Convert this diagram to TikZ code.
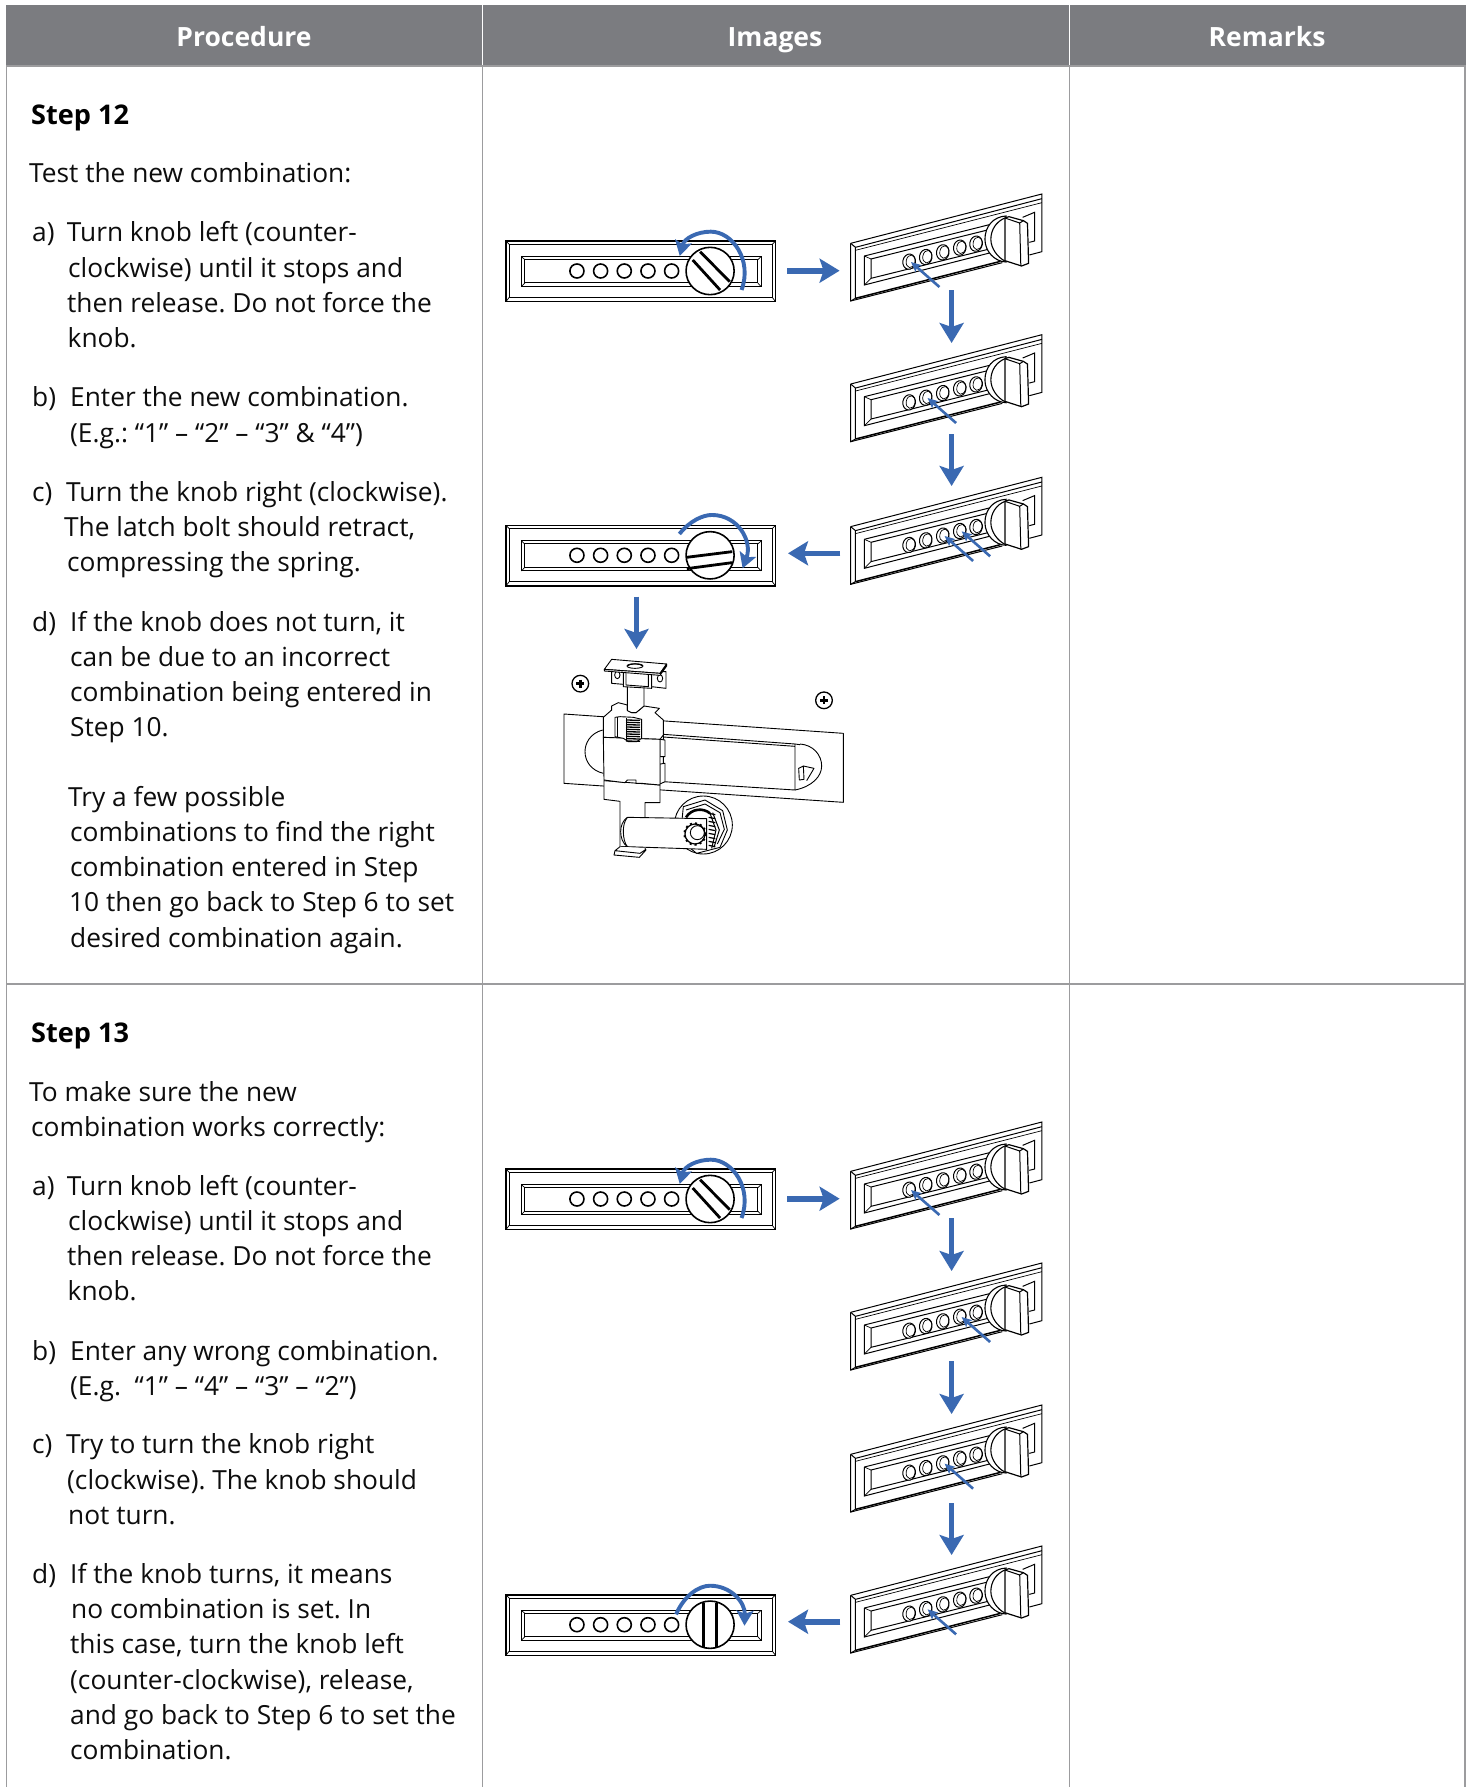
\documentclass[tikz,border=0pt]{standalone}
\usepackage{fontspec}
\setmainfont{Open Sans}
\usetikzlibrary{arrows.meta}
\definecolor{hdr}{HTML}{7B7C80}
\definecolor{rule}{HTML}{9C9C9E}
\definecolor{flow}{HTML}{3A69B2}
\newcount\tlc
\tikzset{
  txt/.style={anchor=base west,inner sep=0pt,font=\fontsize{26.3}{26}\selectfont\frenchspacing,text=black!95},
  stepttl/.style={anchor=base west,inner sep=0pt,font=\fontsize{27.1}{26}\selectfont\bfseries},
  headttl/.style={anchor=base,inner sep=0pt,font=\fontsize{26.5}{26}\selectfont\bfseries,text=white},
  gridline/.style={draw=rule,line width=1.1pt},
  blockarrow/.style={draw=flow,line width=5.6pt,-{Stealth[length=20pt,width=24pt,inset=4pt]}},
  turnarrow/.style={draw=flow,line width=3.9pt,-{Stealth[length=15pt,width=17pt,inset=3pt]}},
  pointer/.style={draw=flow,line width=2.6pt,-{Stealth[length=10pt,width=9pt,inset=2pt]}},
  ink/.style={draw=black,line width=1pt,line join=miter},
  inkb/.style={draw=black,line width=1.6pt},
  slot/.style={draw=black,line width=2.8pt},
  mech/.style={draw=black,line width=.9pt,fill=white,line join=round},
}
\newcommand\tl[3]{\global\advance\tlc by 1 \node[txt] (t\the\tlc) at (#1,#2) {#3};}
\newcommand\ts[3]{\global\advance\tlc by 1 \node[stepttl] (t\the\tlc) at (#1,#2) {#3};}
% flat lock: #1 top, #2 slot paths, #3 curved arrow path
\newcommand\flatlock[3]{%
\begin{scope}[shift={(490,{#1-61})},x=.36990pt,y=-.33333pt]
  \fill[white] (43,183) rectangle (772,365);
  \draw[inkb] (43,183) rectangle (772,365);
  \draw[ink] (52,193) rectangle (763,352);
  \draw[ink,line width=.7pt] (43,183) -- (52,193) (772,183) -- (763,193) (43,365) -- (52,352) (772,365) -- (763,352);
  \draw[ink] (85,230) rectangle (733,320);
  \draw[ink] (94,239) rectangle (724,309);
  \draw[ink,line width=.7pt] (85,230) -- (94,239) (733,230) -- (724,239) (85,320) -- (94,309) (733,320) -- (724,309);
  \foreach \bx in {235,299,363,427,491} \draw[inkb] (\bx,273) circle [x radius=19,y radius=21];
  \draw[inkb,fill=white] (595,273) ellipse [x radius=65,y radius=71];
  #2
  #3
\end{scope}}
% angled lock: #1 top, #2 list of pressed buttons
\newcommand\anglelock[2]{%
\begin{scope}[shift={(490,{#1-14})},x=.36990pt,y=-.33333pt]
  \fill[white] (975,190) -- (1492,42) -- (1492,215) -- (1385,248) -- (975,363) -- cycle;
  \draw[ink] (975,190) -- (1492,42) -- (1492,215) -- (1458,225);
  \draw[ink] (975,190) -- (975,363) -- (1385,248);
  \draw[ink] (988,202) -- (1492,56);
  \draw[ink,line width=.7pt] (988,211) -- (1492,68);
  \draw[ink] (988,202) -- (988,355) (975,190) -- (988,202) (975,363) -- (988,355);
  \draw[ink,line width=1.5pt] (988,355) -- (1380,244);
  \draw[ink] (1012,228) -- (1350,134);
  \draw[ink] (1012,228) -- (1012,315) -- (1375,212);
  \draw[ink] (1030,237) -- (1345,150);
  \draw[ink] (1030,237) -- (1030,295) -- (1350,207);
  \draw[ink,line width=.7pt] (1012,228) -- (1030,237) (1012,315) -- (1030,295);
  \draw[ink] (1440,112) -- (1472,97) -- (1472,183) -- (1458,187);
  \foreach \bx/\by in {1133/245,1178/231,1224/217,1270/203,1314/191}{
    \draw[ink,fill=white] (\bx,\by) ellipse [x radius=17,y radius=23,rotate=-10];
    \draw[ink,line width=.7pt] (\bx+4,\by-1) ellipse [x radius=12,y radius=19,rotate=-10];
  }
  \draw[ink,fill=white,line width=1.1pt] (1395,108) .. controls (1360,110) and (1338,140) .. (1338,178) .. controls (1338,215) and (1365,245) .. (1395,246) -- cycle;
  \draw[ink,line width=1.1pt] (1392,114) .. controls (1368,125) and (1354,150) .. (1354,178) .. controls (1354,205) and (1372,232) .. (1392,243);
  \draw[ink,fill=white,line width=1.2pt] (1392,114) -- (1403,110) -- (1442,122) -- (1453,130) -- (1456,250) -- (1437,258) -- (1392,242) -- cycle;
  \draw[ink] (1392,114) -- (1432,129) -- (1442,122) (1432,129) -- (1435,258);
  \foreach \bx/\by in {#2}
    \draw[pointer] (\bx+82,\by+76) -- (\bx+5,\by+1);
\end{scope}}
\begin{document}
\begin{tikzpicture}[x=1pt,y=-1pt]
\useasboundingbox (0,0) rectangle (1470,1787);
\fill[white] (0,0) rectangle (1470,1787);
% table
\fill[hdr] (6,5) rectangle (1465.5,65.5);
\draw[white,line width=1.1pt] (482.5,5) -- (482.5,65.5) (1069.5,5) -- (1069.5,65.5);
\draw[gridline] (6.5,65.5) -- (6.5,1787) (482.5,65.5) -- (482.5,1787) (1069.5,65.5) -- (1069.5,1787) (1465,65.5) -- (1465,1787);
\draw[gridline] (6.5,66) -- (1465,66) (6.5,984) -- (1465,984);
\node[headttl] (h1) at (244,46.7) {Procedure};
\node[headttl] (h2) at (775,46.7) {Images};
\node[headttl] (h3) at (1267,46.7) {Remarks};
% step 12 text
\ts{31}{124.5}{Step 12}
\tl{29}{182.8}{Test the new combination:}
\tl{32}{241.7}{a)}\tl{66.7}{241.7}{Turn knob left (counter-}
\tl{68}{277.3}{clockwise) until it stops and}
\tl{67}{312.7}{then release. Do not force the}
\tl{67.5}{347.7}{knob.}
\tl{32}{406.7}{b)}\tl{70}{406.7}{Enter the new combination.}
\tl{70}{442.3}{(E.g.: “1” – “2” – “3” \& “4”)}
\tl{32}{501}{c)}\tl{66}{501}{Turn the knob right (clockwise).}
\tl{64}{536}{The latch bolt should retract,}
\tl{67}{571.7}{compressing the spring.}
\tl{32}{631}{d)}\tl{70}{631}{If the knob does not turn, it}
\tl{70}{666}{can be due to an incorrect}
\tl{70}{701}{combination being entered in}
\tl{70}{736}{Step 10.}
\tl{68}{806.7}{Try a few possible}
\tl{70}{841.7}{combinations to find the right}
\tl{70}{876.7}{combination entered in Step}
\tl{69}{911.7}{10 then go back to Step 6 to set}
\tl{70}{947.3}{desired combination again.}
% step 13 text
\ts{31}{1042.2}{Step 13}
\tl{29}{1101.2}{To make sure the new}
\tl{31}{1136.2}{combination works correctly:}
\tl{32}{1195}{a)}\tl{66.7}{1195}{Turn knob left (counter-}
\tl{68}{1230}{clockwise) until it stops and}
\tl{67}{1265.3}{then release. Do not force the}
\tl{67.5}{1300.7}{knob.}
\tl{32}{1360}{b)}\tl{70}{1360}{Enter any wrong combination.}
\tl{70}{1395}{(E.g.~ “1” – “4” – “3” – “2”)}
\tl{32}{1453.8}{c)}\tl{66}{1453.8}{Try to turn the knob right}
\tl{67}{1489.5}{(clockwise). The knob should}
\tl{68}{1524.8}{not turn.}
\tl{32}{1583.8}{d)}\tl{70}{1583.8}{If the knob turns, it means}
\tl{71}{1618.8}{no combination is set. In}
\tl{70}{1653.8}{this case, turn the knob left}
\tl{70}{1689.5}{(counter-clockwise), release,}
\tl{70}{1724.5}{and go back to Step 6 to set the}
\tl{70}{1759.5}{combination.}
% locks, step 12
\flatlock{241}{\draw[slot] (548,240) -- (622,330) (568,215) -- (648,305);}{\draw[turnarrow] (680,330) .. controls (710,240) and (655,155) .. (597,155) .. controls (560,155) and (525,175) .. (513,228);}
\anglelock{194}{1133/245}
\anglelock{334.7}{1178/231}
\anglelock{477.3}{1224/217,1270/203}
\flatlock{525.3}{\draw[slot] (532,279) -- (655,262) (532,313) -- (655,295);}{\draw[turnarrow] (512,209) .. controls (540,170) and (575,152) .. (600,152) .. controls (670,152) and (710,230) .. (683,312);}
\draw[blockarrow] (787,270.7) -- (839.6,270.7);
\draw[blockarrow] (951.6,290) -- (951.6,343);
\draw[blockarrow] (951.6,434) -- (951.6,486);
\draw[blockarrow] (840.3,553.3) -- (788,553.3);
\draw[blockarrow] (636.5,596.7) -- (636.5,649);
% mechanism
\begin{scope}[shift={(540,640)},x=.33333pt,y=-.33333pt]
  \foreach \cx/\cy in {121/131,852/181}{
    \draw[line width=1.3pt] (\cx,\cy) circle [radius=25];
    \draw[line width=2.6pt] (\cx-12,\cy) -- (\cx+12,\cy) (\cx,\cy-12) -- (\cx,\cy+12);
  }
  \draw[mech] (72,222) -- (910,280) -- (910,487) -- (72,430) -- cycle;
  \draw[mech,fill=none] (188,270) .. controls (150,280) and (135,310) .. (135,335) .. controls (135,365) and (155,392) .. (190,400);
  \draw[mech] (370,283) -- (765,312) -- (765,450) -- (370,425) -- cycle;
  \draw[mech,fill=none] (370,291) -- (765,319) (780,314) -- (765,312);
  \draw[mech,fill=none] (780,312) .. controls (820,315) and (845,345) .. (845,378) .. controls (845,410) and (815,440) .. (765,450);
  \draw[mech] (776,385) -- (790,378) -- (792,418) -- (778,420) -- cycle;
  \draw[mech,fill=none] (790,378) -- (822,385) -- (800,422);
  % slide
  \draw[mech] (190,232) -- (215,210) -- (215,198) -- (235,188) -- (262,195) -- (262,210) -- (275,218) -- (288,218) -- (300,208) -- (312,198) -- (358,205) -- (345,218) -- (370,240) -- (370,285) -- (360,298) -- (190,292) -- cycle;
  \draw[mech] (360,298) -- (375,300) -- (375,350) -- (360,350) -- cycle (360,372) -- (375,370) -- (375,425) -- (360,432) -- cycle;
  \draw[mech] (190,345) -- (203,345) -- (203,368) -- (190,368) -- cycle;
  \draw[mech] (192,422) -- (192,478) -- (240,484) -- (240,620) -- (315,620) -- (315,532) -- (315,488) -- (360,488) -- (360,435) -- cycle;
  \draw[mech] (190,292) -- (192,420) -- (230,425) -- (255,428) -- (262,420) -- (288,420) -- (288,430) -- (305,430) -- (360,435) -- (360,298) -- cycle;
  % latch gear
  \draw[mech] (225,232) -- (225,290) -- (250,295) -- (265,305) -- (290,305) -- (305,295) -- (305,238) -- (280,232) -- (240,230) -- cycle;
  \draw[mech,fill=none] (232,232) -- (232,290) (258,235) -- (258,300);
  \foreach \gy in {240,247,...,303} \draw[line width=1.3pt] (258,\gy) -- (300,\gy+1);
  % top bracket
  \draw[mech] (262,140) -- (262,212) -- (275,218) -- (288,218) -- (300,208) -- (312,198) -- (312,140);
  \draw[mech] (215,88) -- (215,130) -- (250,133) -- (250,140) -- (335,145) -- (335,140) -- (378,145) -- (378,95) -- cycle;
  \draw[mech,fill=none] (258,97) -- (258,135) -- (325,140) -- (325,102) (250,92) -- (250,133) (335,98) -- (335,140);
  \draw[mech] (232,105) ellipse [x radius=8,y radius=11];
  \draw[mech] (360,115) ellipse [x radius=8,y radius=11];
  \draw[mech] (193,88) -- (215,58) -- (380,72) -- (360,100) -- cycle;
  \draw[mech] (193,88) -- (193,93) -- (360,106) -- (380,78) -- (380,72) -- (360,100) -- cycle;
  \draw[mech] (285,78) ellipse [x radius=24,y radius=7];
  \draw[mech,fill=none] (262,78) .. controls (270,70) and (300,70) .. (308,78);
  % knob washer, nut, arm
  \draw[mech] (490,555) circle [radius=87];
  \draw[mech] (430,500) -- (495,480) -- (548,512) -- (562,570) -- (540,622) -- (470,640) -- (420,600) -- cycle;
  \draw[mech,fill=none] (438,510) -- (495,492) -- (540,518) -- (553,568) -- (532,612);
  \draw[line width=2.6pt] (438,532) .. controls (455,505) and (490,503) .. (510,520);
  \draw[line width=1pt] (510,520) -- (528,570) -- (515,625) (518,518) -- (538,570) -- (522,622);
  \foreach \ty in {520,532,...,616} \draw[line width=1.2pt] (506,\ty) -- (526,\ty+4);
  \draw[mech] (262,532) -- (500,536) -- (500,628) -- (262,620) .. controls (248,610) and (242,592) .. (242,575) .. controls (242,558) and (248,542) .. (262,532);
  \draw[mech,fill=none] (262,532) .. controls (252,545) and (250,560) .. (250,575) .. controls (250,592) and (254,610) .. (262,620);
  \draw[mech] (240,620) -- (225,632) -- (222,645) -- (298,652) -- (318,630) -- (315,625) (225,632) -- (300,640) -- (318,628);
  \draw[mech,line width=1.2pt] (465,582) circle [radius=30];
  \draw[line width=2.2pt,dash pattern=on 2pt off 3pt] (465,582) circle [radius=32];
  \draw[mech,fill=none] (472,578) circle [radius=21];
\end{scope}
% locks, step 13
\flatlock{1169}{\draw[slot] (548,240) -- (622,330) (568,215) -- (648,305);}{\draw[turnarrow] (680,330) .. controls (710,240) and (655,155) .. (597,155) .. controls (560,155) and (525,175) .. (513,228);}
\anglelock{1122}{1133/245}
\anglelock{1263}{1270/203}
\anglelock{1405}{1224/217}
\anglelock{1546}{1178/231}
\flatlock{1594.7}{\draw[slot] (577,207) -- (577,340) (612,207) -- (612,340);}{\draw[turnarrow] (503,242) .. controls (525,185) and (565,156) .. (595,156) .. controls (650,156) and (690,205) .. (688,276);}
\draw[blockarrow] (787,1198.7) -- (839.6,1198.7);
\draw[blockarrow] (951.6,1218) -- (951.6,1271);
\draw[blockarrow] (951.6,1361) -- (951.6,1414);
\draw[blockarrow] (951.6,1503) -- (951.6,1555);
\draw[blockarrow] (840.3,1621.7) -- (788,1621.7);
\end{tikzpicture}
\end{document}
